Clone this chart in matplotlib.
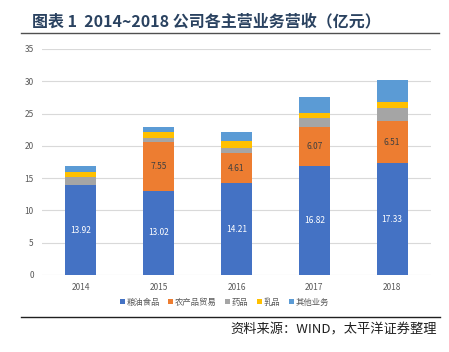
import matplotlib
matplotlib.use("Agg")
import matplotlib.pyplot as plt
from matplotlib.lines import Line2D
import numpy as np

plt.rcParams['font.family'] = ['Noto Sans CJK SC', 'DejaVu Sans']

years = ['2014', '2015', '2016', '2017', '2018']
series_names = ['粮油食品', '农产品贸易', '药品', '乳品', '其他业务']
grain_oil = [13.92, 13.02, 14.21, 16.82, 17.33]
agri_trade = [0.0, 7.55, 4.61, 6.07, 6.51]
medicine = [1.3, 0.7, 0.9, 1.4, 2.1]
dairy = [0.8, 0.9, 1.0, 0.85, 0.8]
other = [0.9, 0.75, 1.4, 2.5, 3.4]
colors = ['#4472C4', '#ED7D31', '#A5A5A5', '#FFC000', '#5B9BD5']
yticks = [0, 5, 10, 15, 20, 25, 30, 35]

W, H = 449, 352
fig = plt.figure(figsize=(W / 100, H / 100), dpi=100)
ax = fig.add_axes([42 / W, 1 - 275 / H, (431 - 42) / W, (275 - 49) / H])

x = np.arange(len(years))
bottom = np.zeros(len(years))
data = [grain_oil, agri_trade, medicine, dairy, other]
for vals, c, name in zip(data, colors, series_names):
    ax.bar(x, vals, width=0.4, bottom=bottom, color=c, label=name, zorder=3)
    bottom = bottom + np.array(vals)

for i, v in enumerate(grain_oil):
    ax.text(x[i], v / 2, f'{v:.2f}', ha='center', va='center', fontsize=6, color='white', zorder=4)
for i, v in enumerate(agri_trade):
    if v > 0:
        ax.text(x[i], grain_oil[i] + v / 2, f'{v:.2f}', ha='center', va='center', fontsize=6,
                color='#404040', zorder=4)

ax.set_xlim(-0.5, len(years) - 0.5)
ax.set_ylim(0, 35)
ax.set_yticks(yticks)
ax.set_xticks(x)
ax.set_xticklabels(years)
ax.tick_params(axis='both', length=0, labelsize=6, labelcolor='#595959', pad=6)
ax.grid(axis='y', color='#D9D9D9', linewidth=0.8, zorder=0)
for s in ax.spines.values():
    s.set_visible(False)

ax.legend(loc='center', bbox_to_anchor=(0.5, (352 - 302) / H), bbox_transform=fig.transFigure,
          ncol=5, frameon=False, fontsize=6, handlelength=0.6, handleheight=0.6,
          handletextpad=0.2, columnspacing=1.0, labelcolor='#595959')

fig.text(32 / W, 1 - 21 / H, '图表 1  2014~2018 公司各主营业务营收（亿元）', fontsize=11.5,
         fontweight='bold', color='#2A4260', ha='left', va='center')
fig.add_artist(Line2D([21 / W, 439 / W], [1 - 33 / H, 1 - 33 / H], color='#505050', linewidth=1.0))
fig.add_artist(Line2D([21 / W, 440 / W], [1 - 317 / H, 1 - 317 / H], color='#202020', linewidth=1.0))
fig.text(437 / W, 1 - 330 / H, '资料来源：WIND，太平洋证券整理', fontsize=9.5, style='italic',
         color='#202020', ha='right', va='center')

fig.savefig('out.png', dpi=100)
